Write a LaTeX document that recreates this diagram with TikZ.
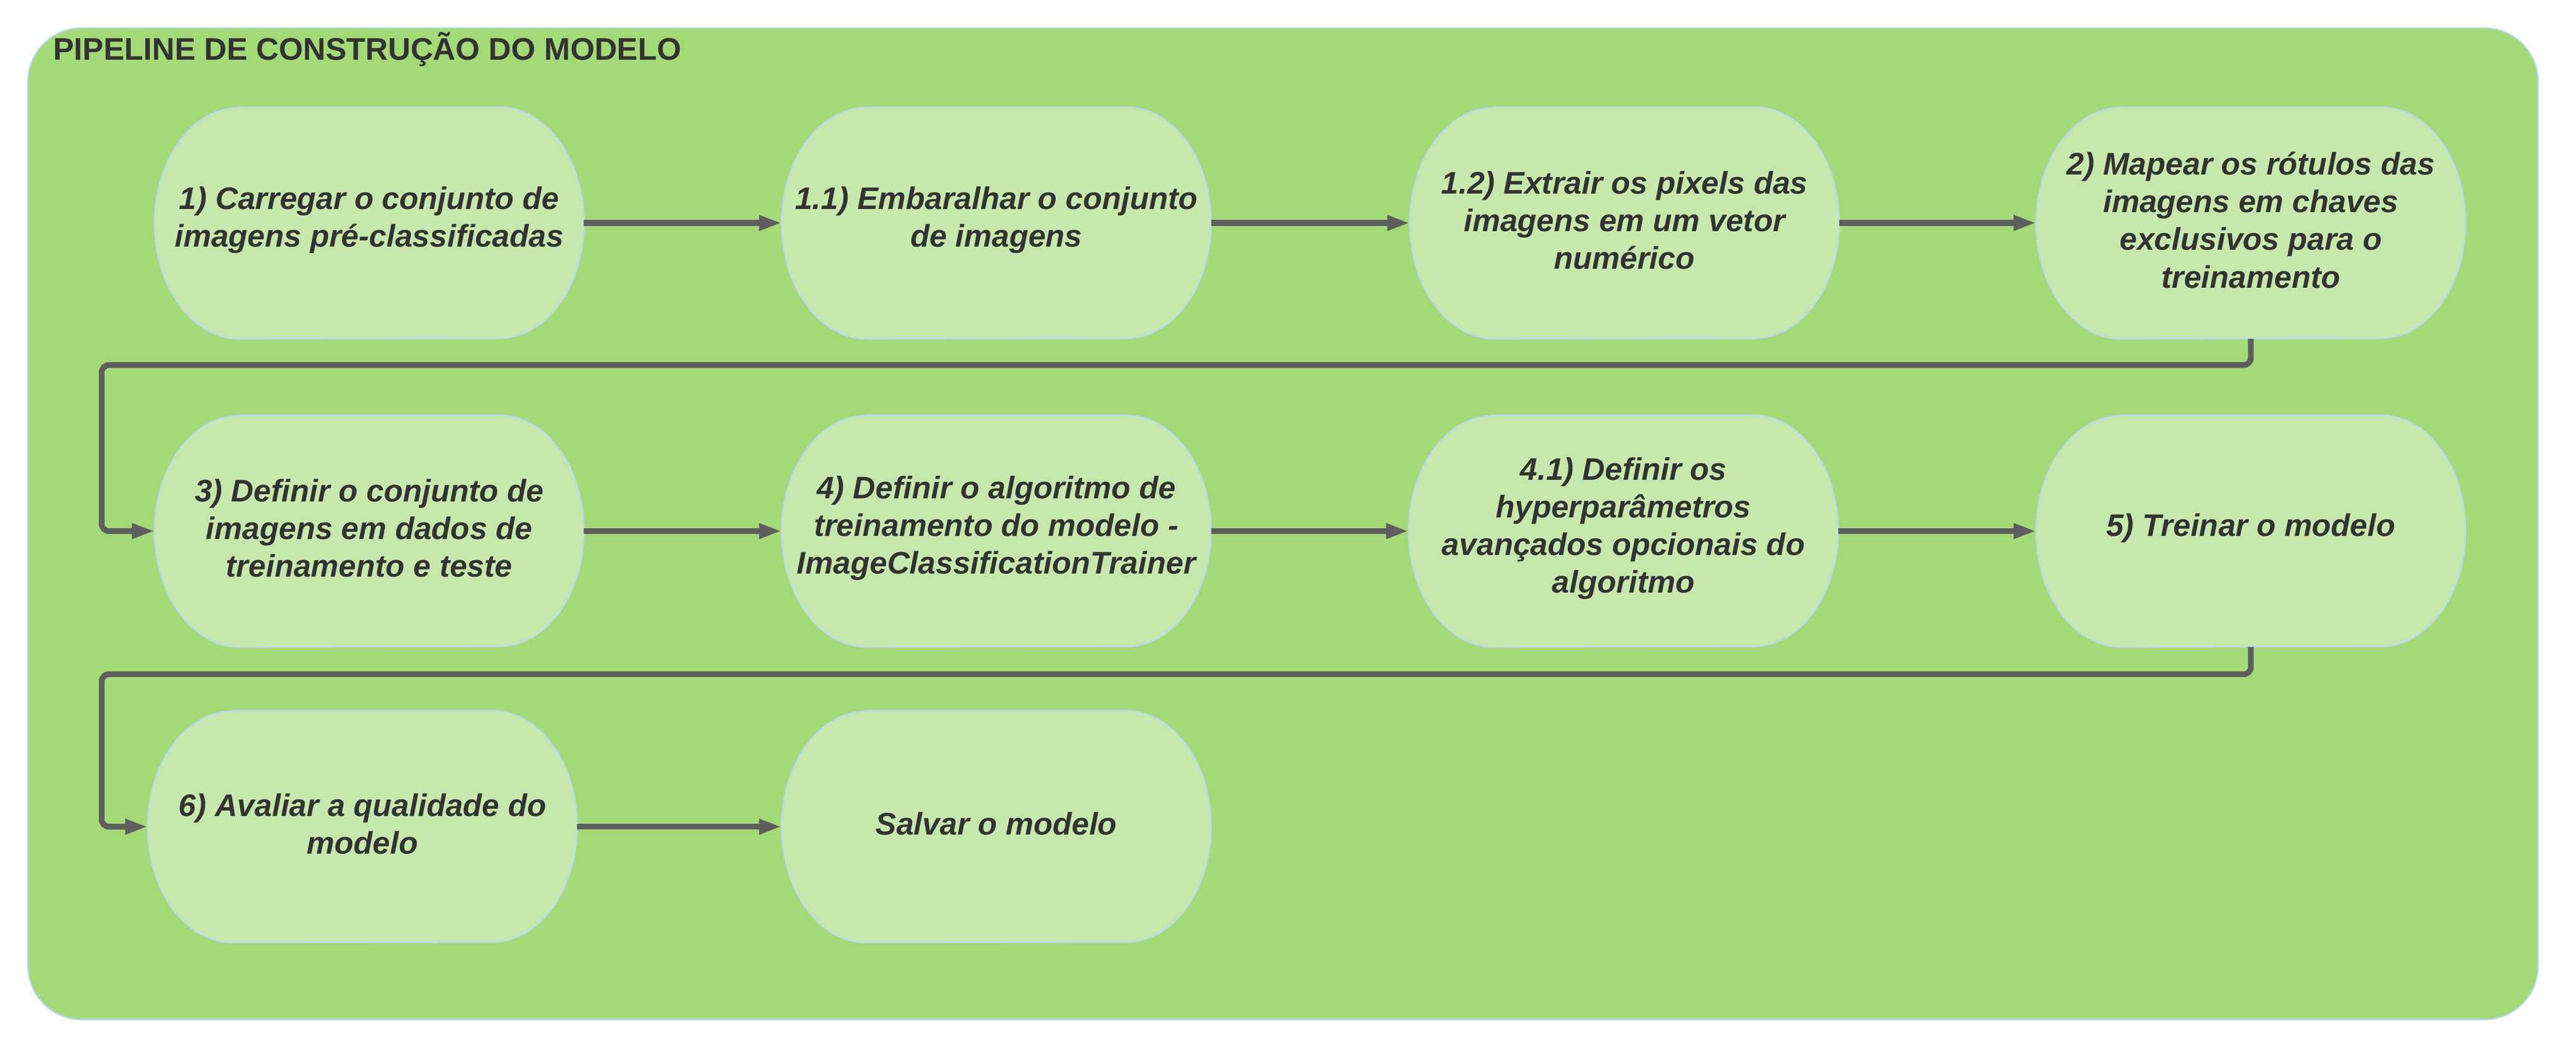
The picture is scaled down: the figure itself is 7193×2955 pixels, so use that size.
\documentclass[tikz,border=0pt]{standalone}
\usepackage{fontspec}
\setmainfont{Liberation Sans}
\usetikzlibrary{arrows.meta,backgrounds,calc}
\definecolor{outerfill}{HTML}{A3D977}
\definecolor{nodefill}{HTML}{C7E8AC}
\definecolor{edgeblue}{HTML}{B9D9F0}
\definecolor{linegray}{HTML}{5E5E5E}
\definecolor{textgray}{HTML}{333333}
\newcommand\stadiumshape[1]{%
  \path[stadiumstyle] ($(#1.north west)+(2.37cm,0)$) -- ($(#1.north east)+(-2.37cm,0)$)
    arc[start angle=90,end angle=-90,x radius=2.37cm,y radius=3.23cm]
    -- ($(#1.south west)+(2.37cm,0)$)
    arc[start angle=270,end angle=90,x radius=2.37cm,y radius=3.23cm] -- cycle;}
\tikzset{
  stepnode/.style={rectangle, draw=none, inner sep=0pt, minimum width=11.97cm, minimum height=6.46cm,
    label={[steptext]center:#1}},
  steptext/.style={inner sep=0pt, yshift=0.08cm, align=center, text=textgray,
    font=\fontsize{24.8}{29.9}\selectfont\bfseries\itshape},
  stadiumstyle/.style={fill=nodefill, draw=edgeblue, line width=0.04cm},
  titlestyle/.style={inner sep=0pt, text=textgray, font=\fontsize{24.8}{29}\selectfont\bfseries},
  conn/.style={draw=linegray, line width=0.16cm, rounded corners=0.2cm,
    -{Triangle[length=0.63cm,width=0.40cm]}},
  outerbox/.style={fill=outerfill, draw=edgeblue, line width=0.04cm, rounded corners=1.5cm}
}
\begin{document}
\begin{tikzpicture}[x=0.01cm,y=-0.01cm]
\useasboundingbox (0,0) rectangle (7193,2955);
\node[titlestyle, anchor=base west] (title) at (148,167) {PIPELINE DE CONSTRUÇÃO DO MODELO};
% row 1
\node[stepnode={1) Carregar o conjunto de\\imagens pré-classificadas}] (n1) at (1031,623) {};
\node[stepnode={1.1) Embaralhar o conjunto\\de imagens}] (n11) at (2782,623) {};
\node[stepnode={1.2) Extrair os pixels das\\imagens em um vetor\\numérico}] (n12) at (4536,623) {};
\node[stepnode={2) Mapear os rótulos das\\imagens em chaves\\exclusivos para o\\treinamento}] (n2) at (6285,623) {};
% row 2
\node[stepnode={3) Definir o conjunto de\\imagens em dados de\\treinamento e teste}] (n3) at (1031,1484) {};
\node[stepnode={4) Definir o algoritmo de\\treinamento do modelo -\\ImageClassificationTrainer}] (n4) at (2782,1484) {};
\node[stepnode={4.1) Definir os\\hyperparâmetros\\avançados opcionais do\\algoritmo}] (n41) at (4533,1484) {};
\node[stepnode={5) Treinar o modelo}] (n5) at (6285,1484) {};
% row 3
\node[stepnode={6) Avaliar a qualidade do\\modelo}] (n6) at (1012,2310) {};
\node[stepnode={Salvar o modelo}] (n7) at (2782,2310) {};
\begin{scope}[on background layer]
  \path[outerbox] (78,78) rectangle (7087,2849);
  \foreach \n in {n1,n11,n12,n2,n3,n4,n41,n5,n6,n7} {\stadiumshape{\n}}
\end{scope}
\coordinate (w1) at (284,1020);
\coordinate (w2) at (284,1884);
\draw[conn] (n1.east) -- (n11.west);
\draw[conn] (n11.east) -- (n12.west);
\draw[conn] (n12.east) -- (n2.west);
\draw[conn] (n2.south) |- (w1) |- (n3.west);
\draw[conn] (n3.east) -- (n4.west);
\draw[conn] (n4.east) -- (n41.west);
\draw[conn] (n41.east) -- (n5.west);
\draw[conn] (n5.south) |- (w2) |- (n6.west);
\draw[conn] (n6.east) -- (n7.west);
\end{tikzpicture}
\end{document}
